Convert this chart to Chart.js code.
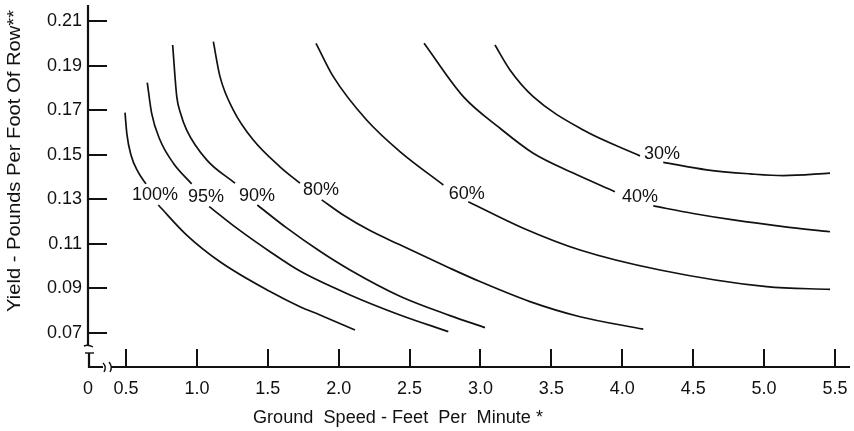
<!DOCTYPE html>
<html><head><meta charset="utf-8">
<script src="https://cdn.jsdelivr.net/npm/chart.js@4/dist/chart.umd.min.js"></script>
<style>html,body{margin:0;padding:0;background:#fff;}canvas{display:block;}</style>
</head><body>
<canvas id="c" width="854" height="431"></canvas>
<script>
// ---- data ----
const xTickValues = [0.5, 1.0, 1.5, 2.0, 2.5, 3.0, 3.5, 4.0, 4.5, 5.0, 5.5];
const yTickValues = [0.07, 0.09, 0.11, 0.13, 0.15, 0.17, 0.19, 0.21];
const X_MIN = 0.232, X_MAX = 5.606, Y_MIN = 0.0547, Y_MAX = 0.2174;
const xTitle = 'Ground  Speed - Feet  Per  Minute *';
const yTitle = 'Yield - Pounds Per Foot Of Row**';

// efficiency curves: [speed, yield], null = gap where the label sits
const curve100 = [[0.493,0.1690],[0.507,0.1590],[0.535,0.1500],[0.585,0.1424],[0.641,0.1370],null,[0.728,0.1275],[0.928,0.1140],[1.163,0.1020],[1.516,0.0886],[1.727,0.0818],[1.868,0.0781],[2.115,0.0713]];
const curve95  = [[0.650,0.1825],[0.681,0.1687],[0.740,0.1567],[0.834,0.1463],[0.963,0.1370],null,[1.087,0.1268],[1.281,0.1171],[1.516,0.1065],[1.727,0.0978],[2.080,0.0871],[2.432,0.0781],[2.773,0.0706]];
const curve90  = [[0.829,0.1994],[0.858,0.1762],[0.884,0.1689],[0.928,0.1612],[1.069,0.1478],[1.269,0.1373],null,[1.426,0.1275],[1.633,0.1172],[1.868,0.1067],[2.080,0.0983],[2.432,0.0865],[2.785,0.0778],[3.032,0.0724]];
const curve80  = [[1.116,0.2009],[1.163,0.1852],[1.257,0.1702],[1.398,0.1567],[1.586,0.1447],[1.727,0.1373],null,[1.880,0.1298],[2.032,0.1230],[2.221,0.1160],[2.432,0.1096],[2.785,0.0991],[2.996,0.0931],[3.349,0.0841],[3.702,0.0773],[4.148,0.0717]];
const curve60  = [[1.840,0.2002],[1.962,0.1852],[2.197,0.1657],[2.432,0.1515],[2.738,0.1365],null,[2.914,0.1290],[3.302,0.1171],[3.702,0.1073],[4.266,0.0983],[5.018,0.0908],[5.465,0.0896]];
const curve40  = [[2.602,0.2002],[2.879,0.1762],[3.138,0.1620],[3.372,0.1508],[3.650,0.1420],[3.948,0.1335],null,[4.219,0.1271],[4.500,0.1237],[4.783,0.1208],[5.136,0.1178],[5.465,0.1155]];
const curve30  = [[3.102,0.1994],[3.208,0.1882],[3.372,0.1762],[3.725,0.1612],[4.125,0.1496],null,[4.289,0.1467],[4.595,0.1433],[4.901,0.1415],[5.136,0.1407],[5.465,0.1418]];

const curveLabels = ['100%', '95%', '90%', '80%', '60%', '40%', '30%'];
const labelX = [0.705, 1.064, 1.424, 1.875, 2.903, 4.125, 4.280];
const labelY = [0.1325, 0.1316, 0.1320, 0.1347, 0.1330, 0.1316, 0.1510];
const curves = [curve100, curve95, curve90, curve80, curve60, curve40, curve30];

// ---- build ----
const FONT = '"Liberation Sans", Arial, sans-serif';
const INK = '#111';
function toPoints(arr, i) {
  return arr.map(p => p ? {x: p[0], y: p[1]} : {x: labelX[i], y: null});
}
const datasets = curves.map((c, i) => ({
  label: curveLabels[i],
  data: toPoints(c, i),
  showLine: true,
  borderColor: INK,
  borderWidth: 1.7,
  pointRadius: 0,
  cubicInterpolationMode: 'monotone',
  spanGaps: false,
  fill: false
}));

function fitText(ctx, text, cx, cy, w, size, rot) {
  ctx.save();
  ctx.font = size + 'px ' + FONT;
  const m = ctx.measureText(text).width;
  ctx.translate(cx, cy);
  ctx.rotate(rot);
  ctx.scale(w / m, 1);
  ctx.textAlign = 'center';
  ctx.textBaseline = 'middle';
  ctx.fillStyle = INK;
  ctx.fillText(text, 0, 0);
  ctx.restore();
}

const decor = {
  id: 'decor',
  afterDraw(chart) {
    const ctx = chart.ctx, xs = chart.scales.x, ys = chart.scales.y, a = chart.chartArea;
    ctx.save();
    ctx.strokeStyle = INK; ctx.lineCap = 'butt';
    const L = a.left, B = a.bottom;
    // y axis (upper part)
    ctx.lineWidth = 2.2;
    ctx.beginPath(); ctx.moveTo(L, a.top); ctx.lineTo(L, B - 21); ctx.stroke();
    // break marks on y axis
    ctx.lineWidth = 1.4;
    ctx.beginPath(); ctx.moveTo(L - 4, B - 21); ctx.quadraticCurveTo(L, B - 23, L + 5, B - 20); ctx.stroke();
    ctx.beginPath(); ctx.moveTo(L - 3, B - 14); ctx.lineTo(L + 6, B - 14); ctx.stroke();
    ctx.lineWidth = 2.2;
    ctx.beginPath(); ctx.moveTo(L + 1, B - 14); ctx.lineTo(L + 1, B); ctx.lineTo(L + 15, B); ctx.stroke();
    // break marks on x axis
    ctx.lineWidth = 1.4;
    ctx.beginPath(); ctx.moveTo(L + 15, B - 4); ctx.quadraticCurveTo(L + 19, B, L + 16, B + 5); ctx.stroke();
    ctx.beginPath(); ctx.moveTo(L + 21, B - 5); ctx.quadraticCurveTo(L + 25, B, L + 22, B + 5); ctx.stroke();
    // x axis
    ctx.lineWidth = 2.2;
    ctx.beginPath(); ctx.moveTo(L + 23, B); ctx.lineTo(a.right, B); ctx.stroke();
    // ticks
    ctx.lineWidth = 2;
    yTickValues.forEach(v => {
      const y = Math.round(ys.getPixelForValue(v));
      ctx.beginPath(); ctx.moveTo(L, y); ctx.lineTo(L + 19, y); ctx.stroke();
    });
    xTickValues.forEach(v => {
      const x = Math.round(xs.getPixelForValue(v));
      ctx.beginPath(); ctx.moveTo(x, B); ctx.lineTo(x, B - 18); ctx.stroke();
    });
    // curve labels
    ctx.fillStyle = INK;
    ctx.font = '18px ' + FONT;
    ctx.textAlign = 'center'; ctx.textBaseline = 'middle';
    curveLabels.forEach((t, i) => {
      ctx.fillText(t, xs.getPixelForValue(labelX[i]), ys.getPixelForValue(labelY[i]) + 1);
    });
    ctx.restore();
    // axis titles
    fitText(ctx, xTitle, 398, 418, 290, 18, 0);
    fitText(ctx, yTitle, 15, 161, 302, 19, -Math.PI / 2);
  }
};

new Chart(document.getElementById('c'), {
  type: 'scatter',
  data: { datasets },
  options: {
    responsive: false,
    devicePixelRatio: 1,
    animation: false,
    layout: { padding: { left: 0, right: 4, top: 5, bottom: 0 } },
    plugins: { legend: { display: false }, tooltip: { enabled: false } },
    scales: {
      x: {
        type: 'linear', min: X_MIN, max: X_MAX,
        grid: { display: false, drawTicks: false },
        border: { display: false },
        afterBuildTicks: s => { s.ticks = [X_MIN].concat(xTickValues).map(v => ({ value: v })); },
        afterFit: s => { s.height = 64; s.paddingLeft = 0; s.paddingRight = 0; },
        ticks: {
          padding: 11, autoSkip: false, maxRotation: 0, color: INK,
          font: { family: FONT, size: 18 },
          callback: v => (v === X_MIN ? '0' : Number(v).toFixed(1))
        }
      },
      y: {
        type: 'linear', min: Y_MIN, max: Y_MAX,
        grid: { display: false, drawTicks: false },
        border: { display: false },
        afterBuildTicks: s => { s.ticks = yTickValues.map(v => ({ value: v })); },
        afterFit: s => { s.width = 88; s.paddingTop = 0; s.paddingBottom = 0; },
        ticks: {
          padding: 6, autoSkip: false, color: INK,
          font: { family: FONT, size: 18 },
          callback: v => Number(v).toFixed(2)
        }
      }
    }
  },
  plugins: [decor]
});
</script>
</body></html>
